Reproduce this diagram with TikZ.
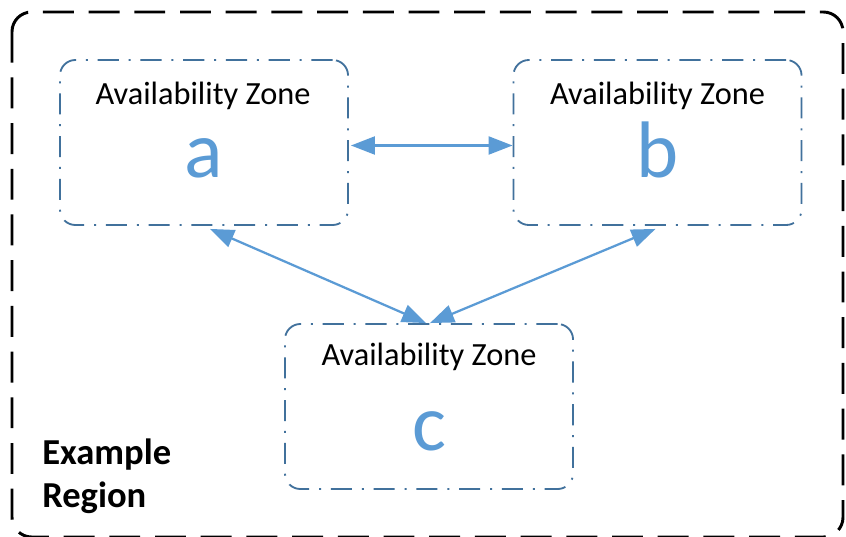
\documentclass[tikz,border=0pt]{standalone}
\usepackage{fontspec}
\setmainfont{Carlito}
\usetikzlibrary{arrows.meta,calc,positioning}
\definecolor{zoneblue}{RGB}{91,155,213}
\definecolor{zoneedge}{RGB}{65,113,156}

\begin{document}
\begin{tikzpicture}[x=0.025cm, y=-0.025cm,
    region/.style={draw=black, line width=2.1pt, rounded corners=14pt,
      dash pattern=on 22pt off 10.5pt},
    zone/.style={draw=zoneedge, line width=1.3pt, rounded corners=11pt,
      dash pattern=on 15pt off 7pt on 1.4pt off 7pt,
      minimum width=7.2cm, minimum height=4.125cm, inner sep=0pt},
    zonetitle/.style={anchor=base, inner sep=0pt,
      font=\fontsize{23}{27}\selectfont},
    zoneletter/.style={anchor=base, inner sep=0pt, text=zoneblue,
      font=\fontsize{57}{60}\selectfont},
    link/.style={draw=zoneblue, line width=1.6pt,
      {Triangle[length=0.6cm, width=0.45cm]}-{Triangle[length=0.6cm, width=0.45cm]}}]

  \useasboundingbox[fill=white] (0,0) rectangle (846,537);

  % ============================================================
  % REGION BORDER
  % ============================================================
  \draw[region] (12,12) rectangle (843,537);

  \node[anchor=base west, inner sep=0pt, align=left,
        font=\fontsize{26}{30.5}\selectfont\bfseries]
    (region) at (42,507) {Example\\Region};

  % ============================================================
  % AVAILABILITY ZONES
  % ============================================================
  \node[zone] (za) at (204,142.5) {};
  \node[zone] (zb) at (657.5,142.5) {};
  \node[zone] (zc) at (429,406.5) {};

  \node[zonetitle] (za-title) at ($(za.north)+(-1,45)$) {Availability Zone};
  \node[zonetitle] (zb-title) at ($(zb.north)+(0,45)$) {Availability Zone};
  \node[zonetitle] (zc-title) at ($(zc.north)+(0,42)$) {Availability Zone};

  \node[zoneletter] (za-letter) at ($(za.north)+(0,118)$) {a};
  \node[zoneletter] (zb-letter) at ($(zb.north)+(0,118)$) {b};
  \node[zoneletter] (zc-letter) at ($(zc.north)+(0,127)$) {c};

  % ============================================================
  % LINKS
  % ============================================================
  \draw[link] ($(za.east)+(2,3)$) -- ($(zb.west)+(0,3)$);
  \draw[link] ($(za.south)+(6,3)$) -- ($(zc.north)+(-3,0)$);
  \draw[link] ($(zb.south)+(-2,3)$) -- ($(zc.north)+(1,0)$);

\end{tikzpicture}
\end{document}
